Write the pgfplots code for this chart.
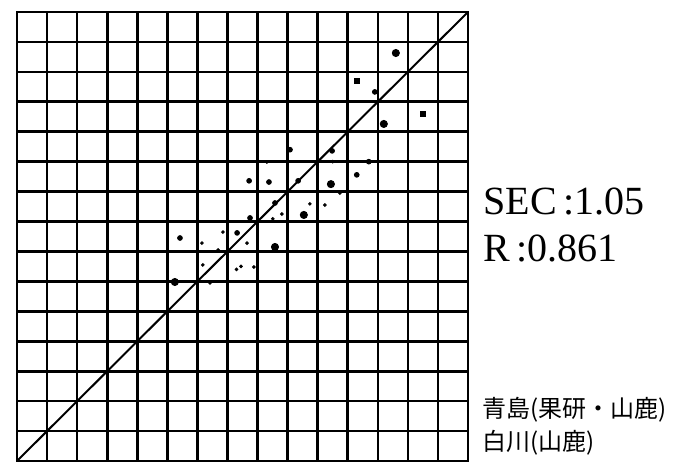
\documentclass[border=0pt]{standalone}
\usepackage{fontspec}
\setmainfont{Liberation Serif}
\newfontfamily\jp{Noto Sans CJK JP}
\usepackage{pgfplots}
\pgfplotsset{compat=1.18}

\begin{document}
\begin{tikzpicture}
\begin{axis}[name=ax, at={(0,0)}, anchor=south west,
  scale only axis, width=225.5pt, height=224.5pt,
  xmin=0, xmax=15, ymin=0, ymax=15,
  xtick={0,...,15}, ytick={0,...,15},
  xticklabels={}, yticklabels={}, major tick length=0pt,
  grid=major, grid style={black, line width=1.3pt},
  axis line style={black, line width=1.4pt}, clip=false]
  % 1:1 line
  \addplot[black, line width=1pt] coordinates {(0,0) (15,15)};
  % large dots
  \addplot[only marks, mark=*, mark size=1.8pt, black] coordinates {
    (12.6,13.63) (12.2,11.26) (5.25,5.98) (9.54,8.22) (10.44,9.25) (8.58,7.15)};
  % medium dots
  \addplot[only marks, mark=*, mark size=1.2pt, black] coordinates {
    (11.9,12.33) (9.08,10.4) (10.48,10.36) (11.7,10.0) (11.3,9.56) (8.38,9.32)
    (9.35,9.36) (7.32,7.62) (8.58,8.62) (5.42,7.45) (7.75,8.12) (7.72,9.36)};
  % small dots
  \addplot[only marks, mark=*, mark size=0.7pt, black] coordinates {
    (8.31,9.99) (10.5,10.0) (10.74,8.95) (9.74,8.59) (10.24,8.55) (8.51,8.09)
    (8.81,8.25) (6.85,7.65) (7.65,7.28) (6.15,7.28) (6.69,7.05) (6.18,6.55)
    (7.88,6.48) (6.42,5.95) (7.3,6.4) (7.45,6.5)};
  % squares
  \addplot[only marks, mark=square*, mark size=1.1pt, black] coordinates {
    (11.3,12.7) (13.5,11.6)};
\end{axis}
\path[use as bounding box] (-8.5pt,-2pt) rectangle (334pt,230.5pt);
\node[anchor=base west, font=\fontsize{20}{24}\selectfont, inner sep=0pt] at (233pt,123pt) {SEC\,:1.05};
\node[anchor=base west, font=\fontsize{20}{24}\selectfont, inner sep=0pt] at (233pt,99.5pt) {R\,:0.861};
\node[anchor=base west, font=\jp\fontsize{12}{14}\selectfont, inner sep=0pt] at (232.5pt,22pt) {青島(果研・山鹿)};
\node[anchor=base west, font=\jp\fontsize{12}{14}\selectfont, inner sep=0pt] at (232.5pt,5.5pt) {白川(山鹿)};
\end{tikzpicture}
\end{document}
